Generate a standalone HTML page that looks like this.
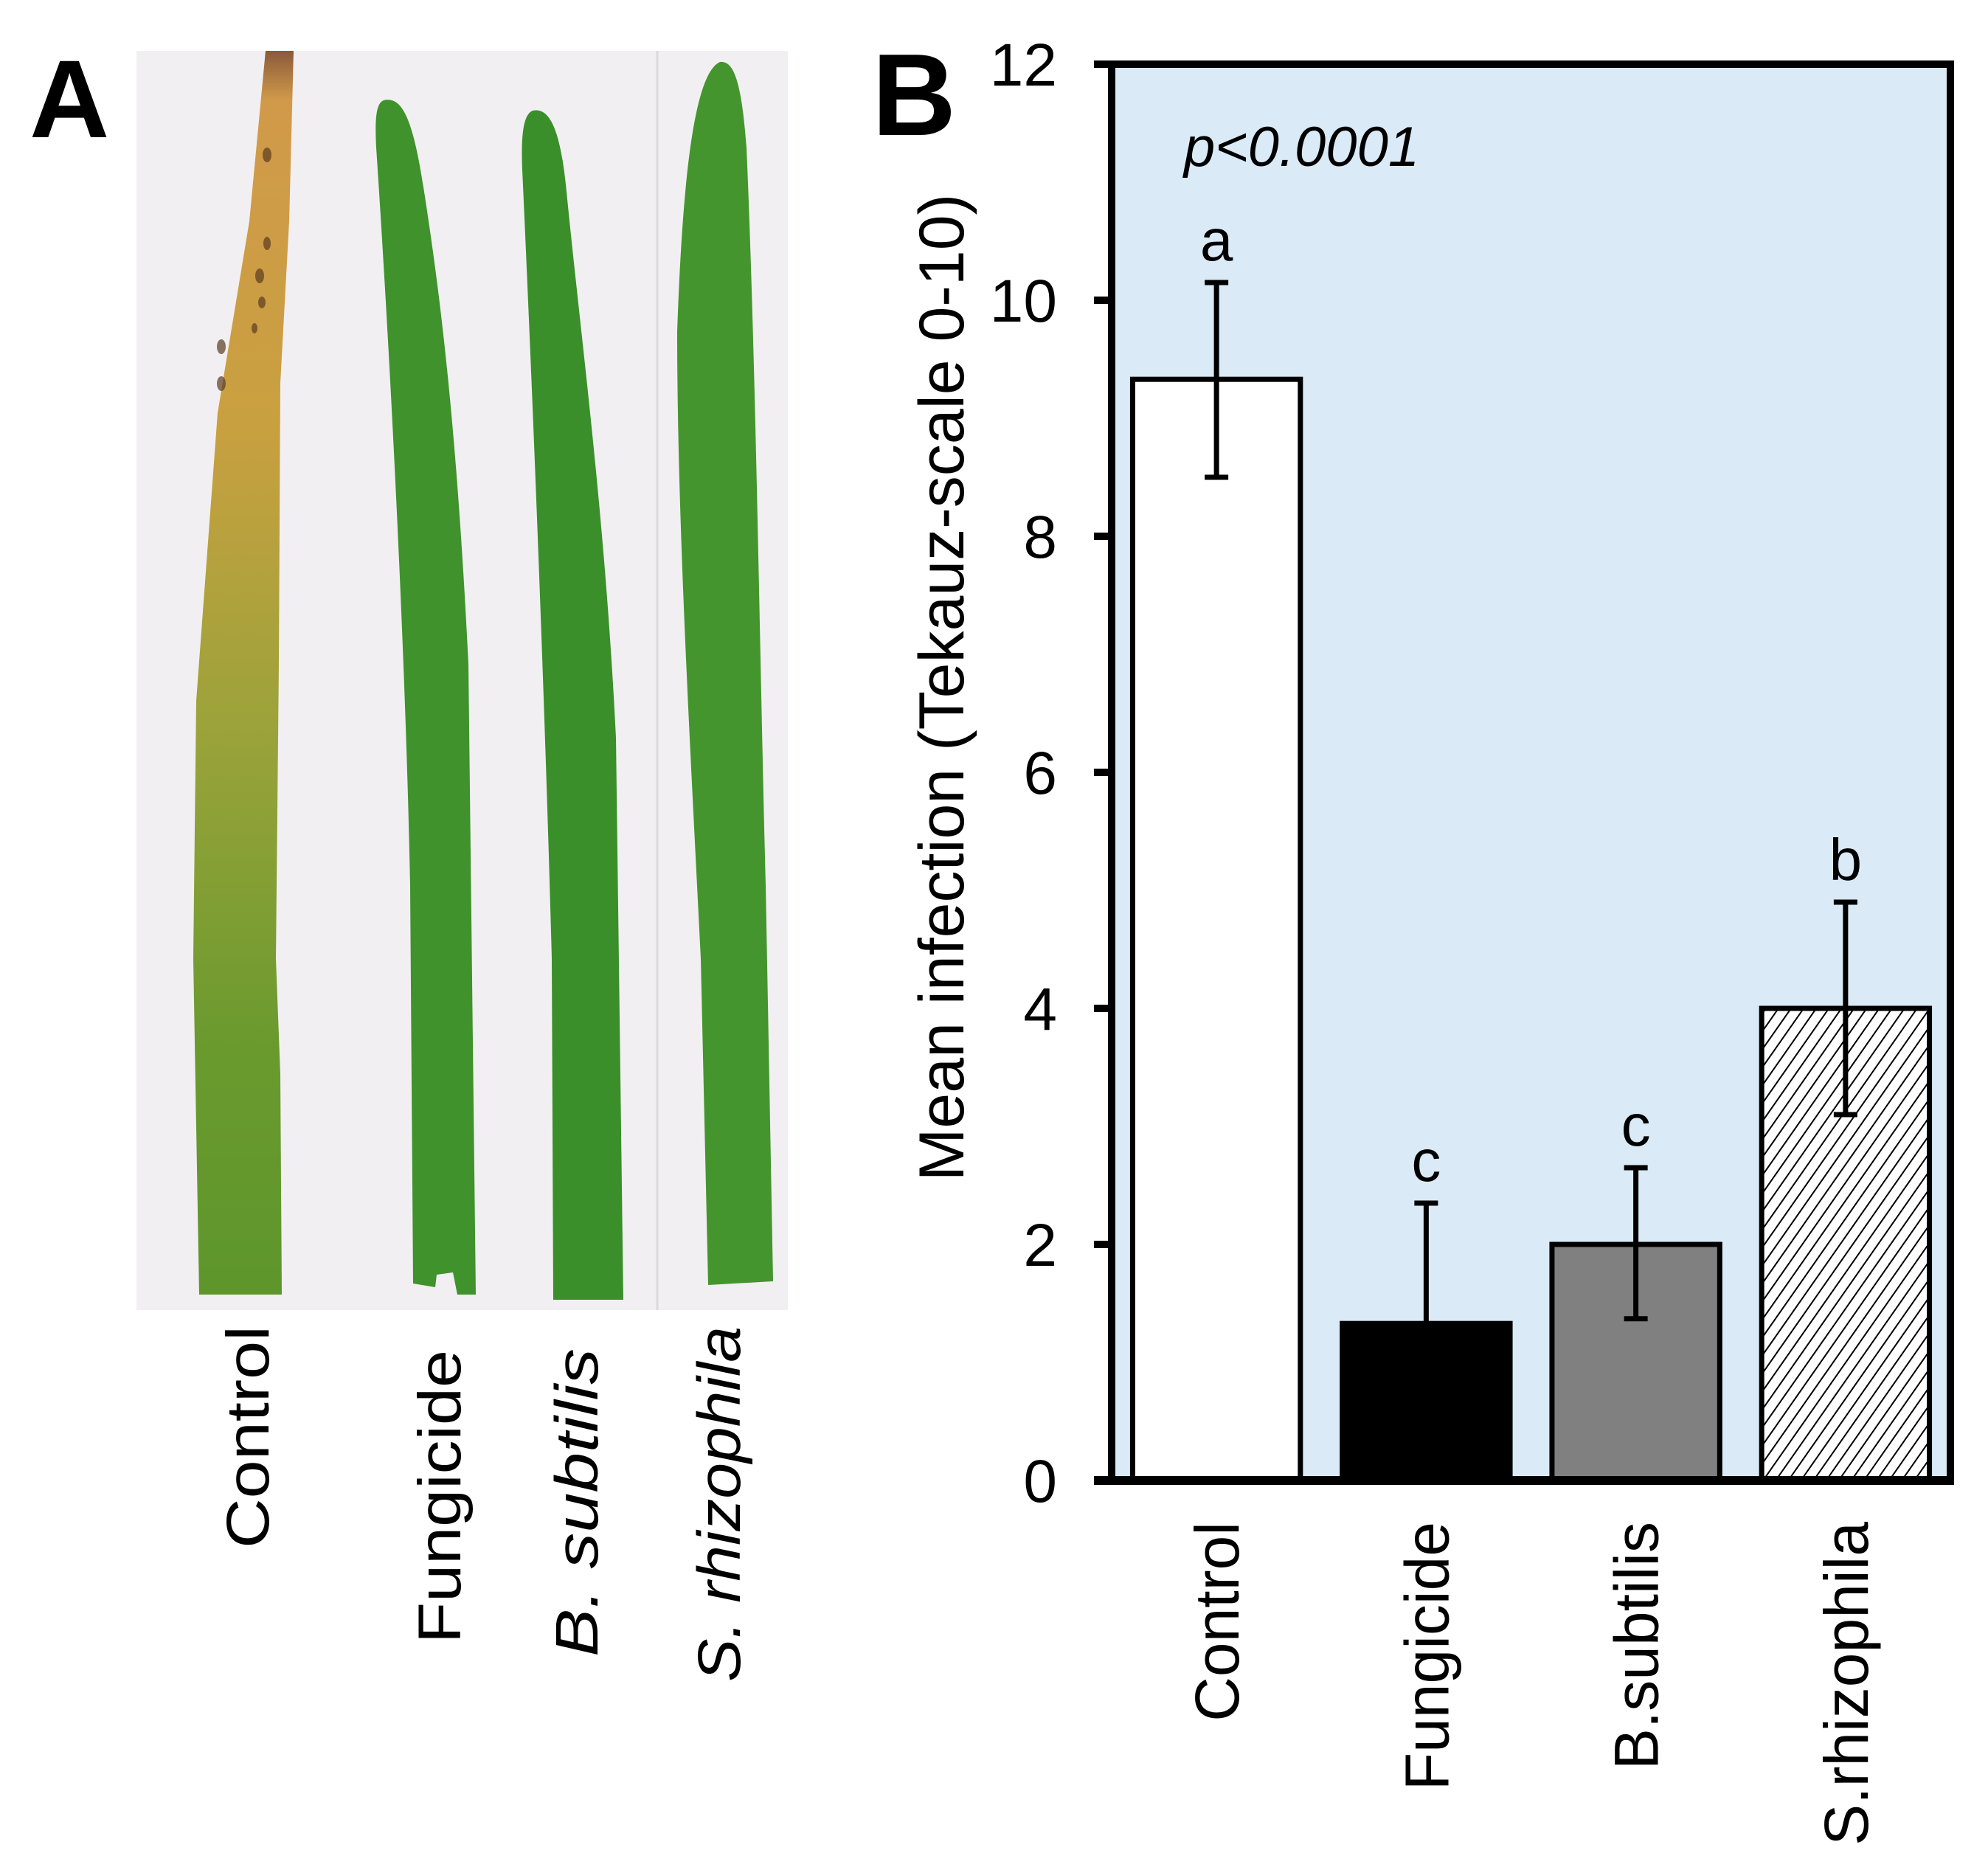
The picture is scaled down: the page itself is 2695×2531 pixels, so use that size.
<!DOCTYPE html>
<html><head><meta charset="utf-8"><style>html,body{margin:0;padding:0;background:#fff}svg{display:block}</style></head>
<body>
<svg id="fig" width="2695" height="2531" viewBox="0 0 2695 2531" xmlns="http://www.w3.org/2000/svg" font-family="Liberation Sans, Arial, sans-serif">
<defs>
<pattern id="hatch" width="14" height="14" patternUnits="userSpaceOnUse" patternTransform="rotate(35)">
<rect width="14" height="14" fill="#fff"/><line x1="0" y1="0" x2="0" y2="14" stroke="#000" stroke-width="4"/>
</pattern>
<linearGradient id="ctrlLeaf" x1="0" y1="0" x2="0" y2="1">
<stop offset="0" stop-color="#8a5a3a"/><stop offset="0.04" stop-color="#d19a4a"/><stop offset="0.3" stop-color="#c9a040"/><stop offset="0.55" stop-color="#9aa33a"/><stop offset="0.8" stop-color="#6a9a2e"/><stop offset="1" stop-color="#5e962c"/>
</linearGradient>
</defs>
<text x="40" y="186" font-size="150" font-weight="bold">A</text>
<rect x="185" y="69" width="883" height="1707" fill="#f2eff2"/>
<line x1="891" y1="69" x2="891" y2="1776" stroke="#dcd8dc" stroke-width="3"/>
<path d="M360,69 L398,69 L392,300 L380,520 L378,900 L374,1300 L380,1456 L382,1755 L270,1755 L262,1300 L266,950 L295,560 L338,300 Z" fill="url(#ctrlLeaf)"/>
<g fill="#5a3c20" opacity="0.7">
<ellipse cx="362" cy="210" rx="6" ry="10"/><ellipse cx="362" cy="330" rx="5" ry="9"/><ellipse cx="352" cy="374" rx="6" ry="10"/><ellipse cx="355" cy="410" rx="5" ry="8"/><ellipse cx="300" cy="470" rx="6" ry="10"/><ellipse cx="300" cy="520" rx="6" ry="10"/><ellipse cx="345" cy="445" rx="4" ry="7"/>
</g>
<path d="M520,136 C545,130 560,160 575,260 C600,420 620,600 635,900 L645,1755 L620,1755 L614,1725 L592,1728 L590,1745 L560,1740 L556,1200 C550,900 530,500 510,200 C508,160 510,140 520,136 Z" fill="#3f922c"/>
<path d="M722,150 C745,145 760,175 768,260 C790,480 820,700 835,1000 L845,1762 L750,1762 L748,1300 C740,1000 725,600 708,230 C706,180 710,155 722,150 Z" fill="#3a8f2a"/>
<path d="M976,84 C995,82 1005,110 1012,200 C1025,500 1030,900 1038,1200 L1048,1737 L960,1742 L950,1300 C935,1000 918,700 918,450 C925,250 940,100 976,84 Z" fill="#45952e"/>
<g font-family="Liberation Sans Narrow, Liberation Sans, sans-serif" font-size="82" fill="#000">
<text transform="translate(364,2099) rotate(-90)" textLength="302" lengthAdjust="spacingAndGlyphs">Control</text>
<text transform="translate(624,2228) rotate(-90)" textLength="398" lengthAdjust="spacingAndGlyphs">Fungicide</text>
<text transform="translate(810,2246) rotate(-90)" textLength="418" lengthAdjust="spacingAndGlyphs"><tspan font-style="italic">B. subtilis</tspan></text>
<text transform="translate(1003,2280) rotate(-90)" textLength="482" lengthAdjust="spacingAndGlyphs"><tspan font-style="italic">S. rhizophila</tspan></text>
</g>
<text x="1182" y="183" font-size="158" font-weight="bold">B</text>
<g id="chart"></g>
</svg>
<script>
const categories = ['Control','Fungicide','B.subtilis','S.rhizophila'];
const means = [9.33, 1.33, 2.0, 4.0];
const errLow = [8.5, 0.4, 1.37, 3.1];
const errHigh = [10.15, 2.35, 2.65, 4.9];
const letters = ['a','c','c','b'];
const yTicks = [0,2,4,6,8,10,12];
const fills = ['#ffffff','#000000','#808080','url(#hatch)'];

const NS='http://www.w3.org/2000/svg';
const g=document.getElementById('chart');
const L=1507, R=2644, T=87, B0=2007, yMax=12;
const y=v=>B0-(v/yMax)*(B0-T);
const band=(R-L)/categories.length;
const xc=i=>L+band*(i+0.5);
const bw=band*0.8;
function mk(tag,attrs){const e=document.createElementNS(NS,tag);for(const k in attrs)e.setAttribute(k,attrs[k]);g.appendChild(e);return e;}

let e=mk('rect',{x:L,y:T,width:R-L,height:B0-T,fill:'#daeaf7'});



categories.forEach((c,i)=>{
  const b=mk('rect',{x:xc(i)-bw/2,y:y(means[i]),width:bw,height:B0-y(means[i]),fill:fills[i],stroke:'#000','stroke-width':7});
  
  
  const el=mk('line',{x1:xc(i),x2:xc(i),y1:y(errLow[i]),y2:y(errHigh[i]),stroke:'#000','stroke-width':7});
  
  
  [errLow[i],errHigh[i]].forEach(v=>{
    const cap=mk('line',{x1:xc(i)-16,x2:xc(i)+16,y1:y(v),y2:y(v),stroke:'#000','stroke-width':7});
    
    
  });
  const t=mk('text',{x:xc(i),y:y(errHigh[i])-30,'font-size':80,'text-anchor':'middle'});
  t.textContent=letters[i];
  
  
  const xl=mk('text',{transform:`translate(${xc(i)+30},${B0+56}) rotate(-90)`,'font-size':84,'text-anchor':'end'});
  xl.textContent=c;
  
  
});

e=mk('rect',{x:L,y:T,width:R-L,height:B0-T,fill:'none',stroke:'#000','stroke-width':10});


e=mk('line',{x1:L-24,x2:R+5,y1:B0,y2:B0,stroke:'#000','stroke-width':12});



yTicks.forEach(v=>{
  const tk=mk('line',{x1:L-24,x2:L,y1:y(v),y2:y(v),stroke:'#000','stroke-width':10});
  
  
  const tl=mk('text',{x:1433,y:y(v)+29,'font-size':82,'text-anchor':'end'});
  tl.textContent=v;
  
  
});

e=mk('text',{transform:`translate(1306,${(T+B0)/2-115}) rotate(-90)`,'font-size':86,'text-anchor':'middle'});
e.textContent='Mean infection (Tekauz-scale 0-10)';


e=mk('text',{x:1605,y:225,'font-size':76,'font-style':'italic'});
e.textContent='p<0.0001';


</script>
</body></html>
